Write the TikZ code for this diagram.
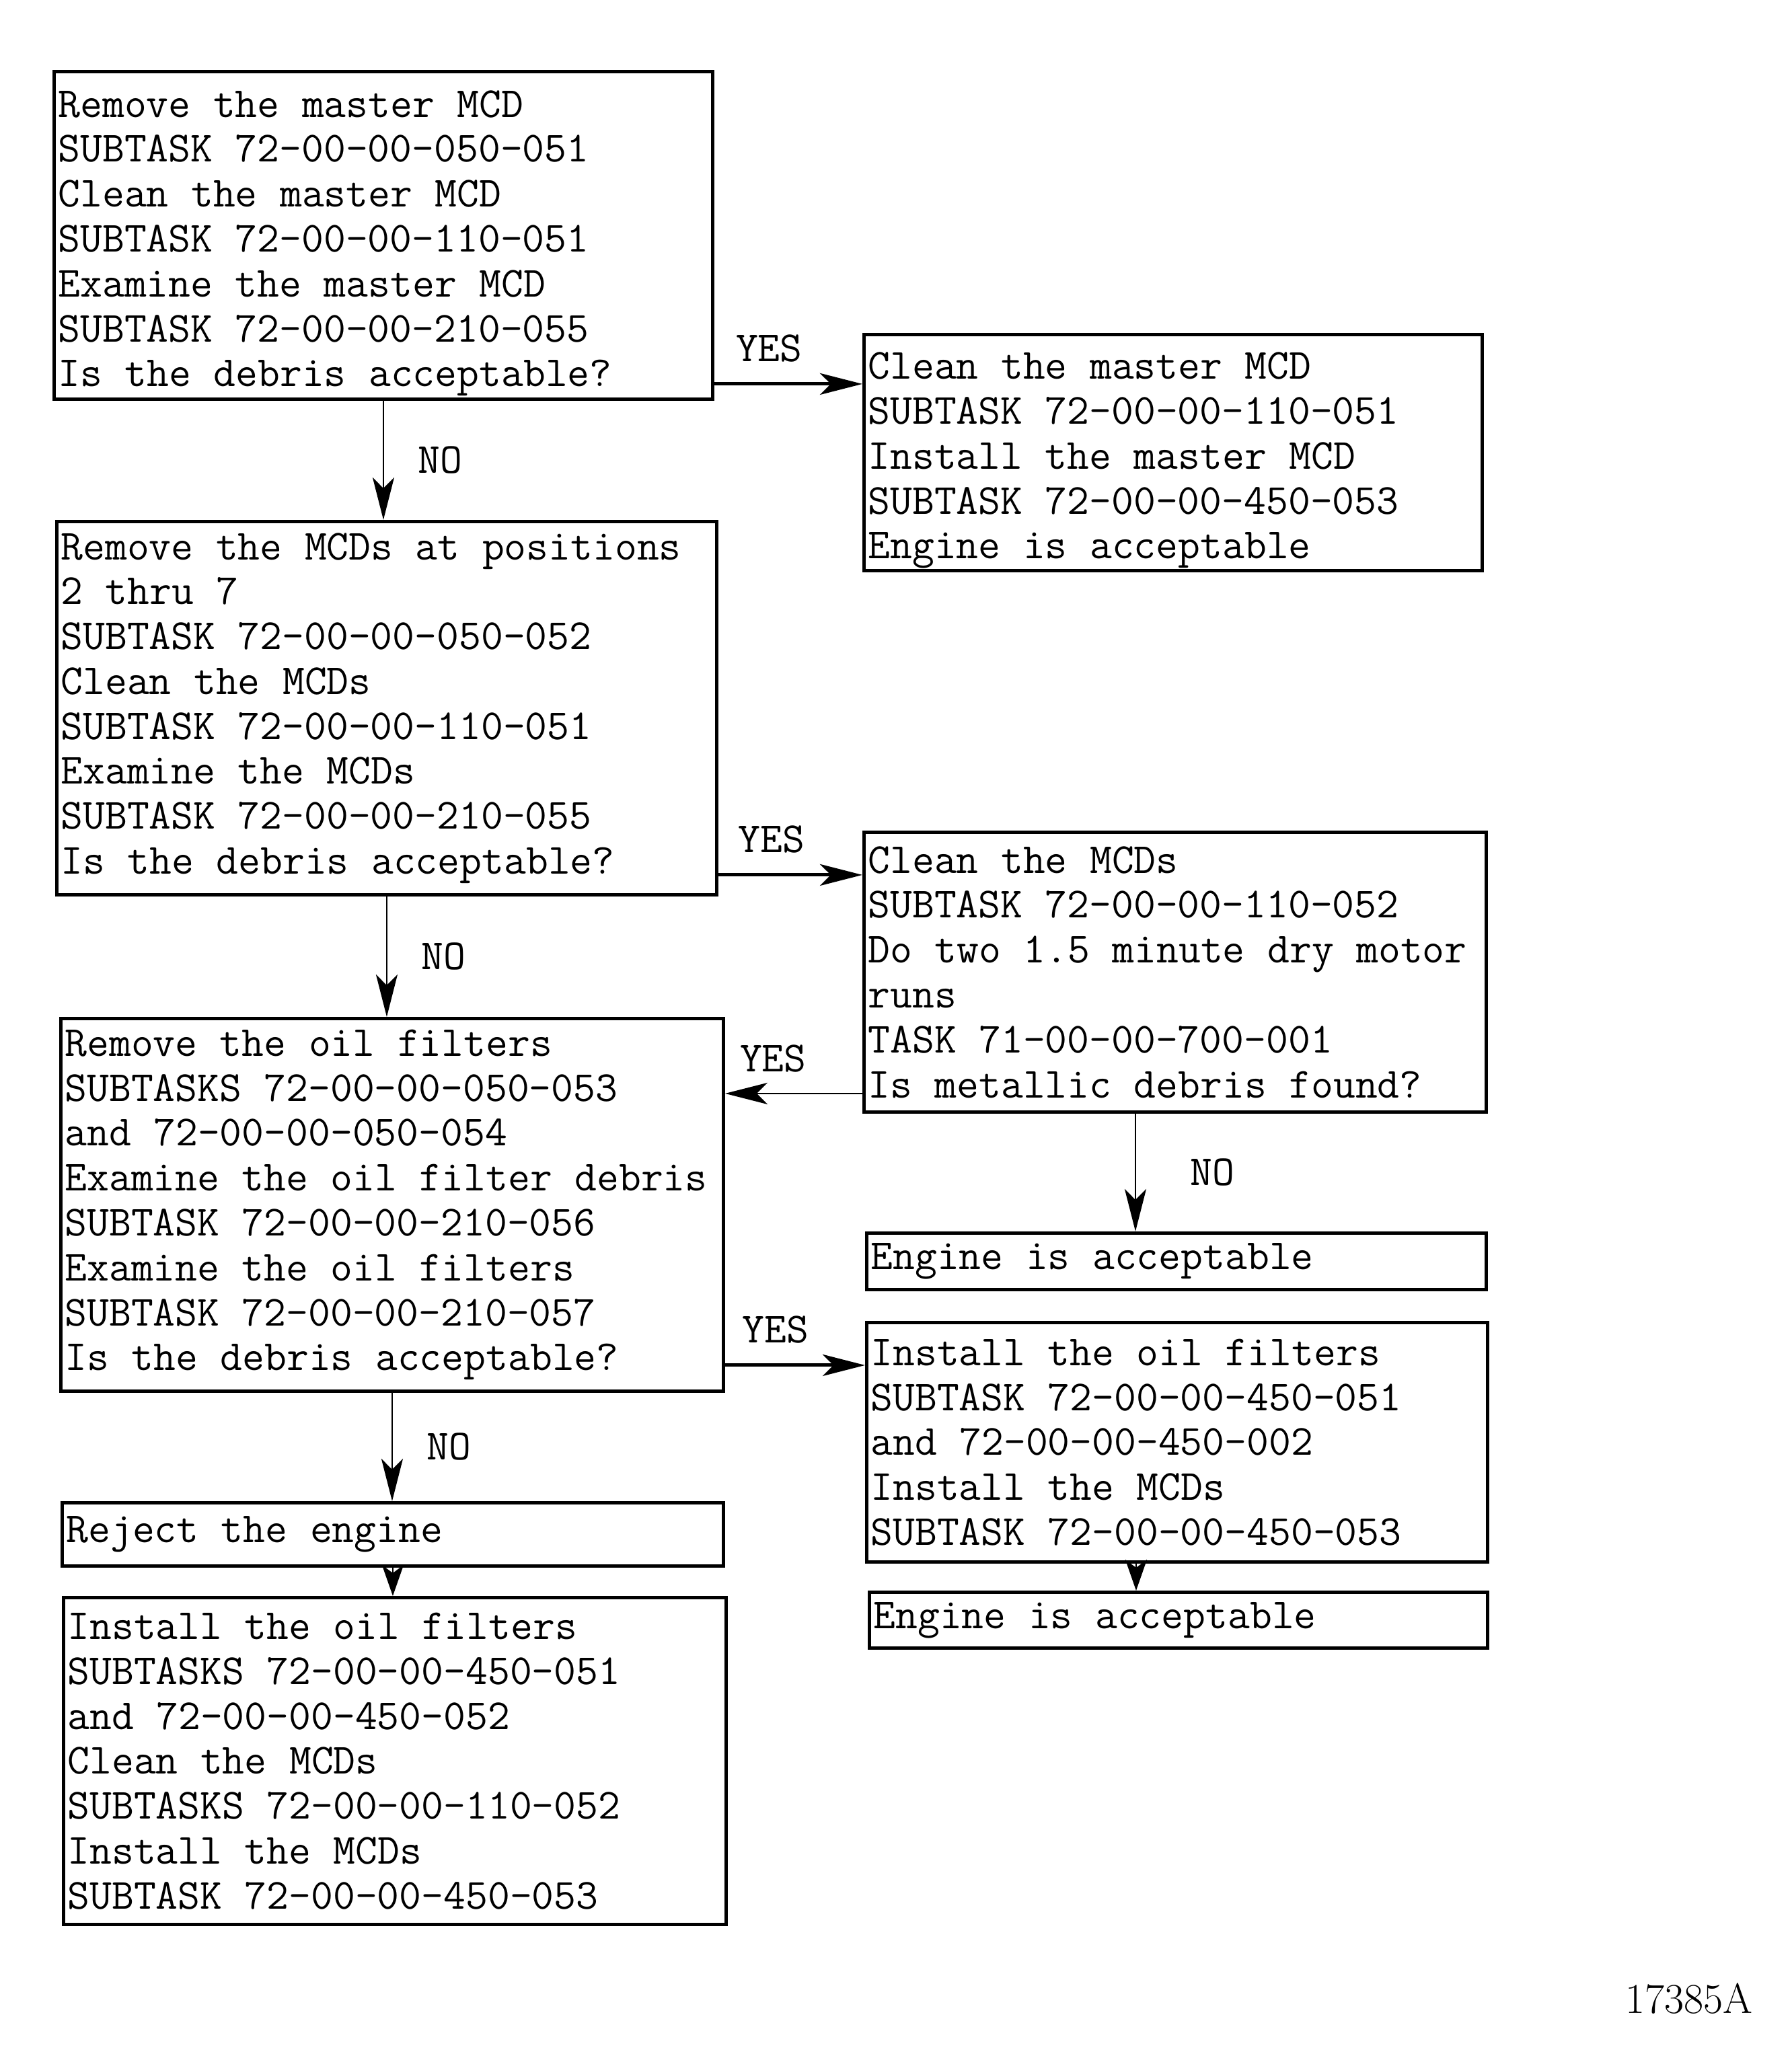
\documentclass[tikz,border=0pt]{standalone}
\usetikzlibrary{arrows.meta}
\newcommand{\boxfont}{\fontsize{18.15}{19}\selectfont\ttfamily}
\newcommand{\monospace}{\spaceskip=0.525em\relax\xspaceskip=\spaceskip}
\begin{document}
\begin{tikzpicture}[
    %Option for the arrows
    >={Stealth[length=6.3mm,width=3.2mm,inset=1.6mm]}, %
    stepbox/.style={draw, line width=1.4pt, anchor=north west, align=left,
        inner xsep=0.06cm, inner ysep=0pt, font=\boxfont,
        execute at begin node=\monospace},
    lowtext/.style={execute at begin node={\monospace\rule{0pt}{18pt}}},
    yesline/.style={line width=1.4pt,->},
    noline/.style={line width=0.8pt,->},
    shortline/.style={line width=0.8pt,-{Stealth[length=4.6mm,width=3.2mm,inset=1.2mm]}},
    answer/.style={font=\boxfont, inner sep=1mm},
]
    \useasboundingbox[fill=white] (0,0) rectangle (26.63,-30.63);

    % Left column
    \node[stepbox, lowtext, text width=9.67cm, minimum height=4.87cm] (masterchk) at (0.78,-1.04)
        {Remove the master MCD\\SUBTASK 72-00-00-050-051\\Clean the master MCD\\
         SUBTASK 72-00-00-110-051\\Examine the master MCD\\SUBTASK 72-00-00-210-055\\
         Is the debris acceptable?};
    \node[stepbox, text width=9.69cm, minimum height=5.55cm] (mcdchk) at (0.82,-7.73)
        {Remove the MCDs at positions\\2 thru 7\\SUBTASK 72-00-00-050-052\\
         Clean the MCDs\\SUBTASK 72-00-00-110-051\\Examine the MCDs\\
         SUBTASK 72-00-00-210-055\\Is the debris acceptable?};
    \node[stepbox, text width=9.73cm, minimum height=5.54cm] (filterchk) at (0.88,-15.12)
        {Remove the oil filters\\SUBTASKS 72-00-00-050-053\\and 72-00-00-050-054\\
         Examine the oil filter debris\\SUBTASK 72-00-00-210-056\\
         Examine the oil filters\\SUBTASK 72-00-00-210-057\\Is the debris acceptable?};
    \node[stepbox, text width=9.71cm, minimum height=0.94cm] (reject) at (0.90,-22.32)
        {Reject the engine};
    \node[stepbox, text width=9.73cm, minimum height=4.86cm] (restore) at (0.92,-23.73)
        {Install the oil filters\\SUBTASKS 72-00-00-450-051\\and 72-00-00-450-052\\
         Clean the MCDs\\SUBTASKS 72-00-00-110-052\\Install the MCDs\\
         SUBTASK 72-00-00-450-053};

    % Right column
    \node[stepbox, lowtext, text width=9.07cm, minimum height=3.51cm] (masterok) at (12.82,-4.95)
        {Clean the master MCD\\SUBTASK 72-00-00-110-051\\Install the master MCD\\
         SUBTASK 72-00-00-450-053\\Engine is acceptable};
    \node[stepbox, text width=9.13cm, minimum height=4.16cm] (motorrun) at (12.82,-12.35)
        {Clean the MCDs\\SUBTASK 72-00-00-110-052\\Do two 1.5 minute dry motor\\
         runs\\TASK 71-00-00-700-001\\Is metallic debris found?};
    \node[stepbox, text width=9.09cm, minimum height=0.84cm] (engineokA) at (12.86,-18.31)
        {Engine is acceptable};
    \node[stepbox, text width=9.11cm, minimum height=3.56cm] (filterinst) at (12.86,-19.64)
        {Install the oil filters\\SUBTASK 72-00-00-450-051\\and 72-00-00-450-002\\
         Install the MCDs\\SUBTASK 72-00-00-450-053};
    \node[stepbox, text width=9.07cm, minimum height=0.83cm] (engineokB) at (12.90,-23.65)
        {Engine is acceptable};

    % Figure number
    \node[anchor=base east, font=\fontsize{18}{21}\selectfont] (figno) at (26.18,-29.93) {17385A};

    % YES branches
    \coordinate (yesA) at ([yshift=0.25cm]masterchk.south east);
    \draw[yesline] (yesA) -- (yesA -| masterok.west) node[answer, pos=0.37, above=2mm] {YES};
    \coordinate (yesB) at ([yshift=0.32cm]mcdchk.south east);
    \draw[yesline] (yesB) -- (yesB -| motorrun.west) node[answer, pos=0.37, above=2mm] {YES};
    \coordinate (yesC) at ([yshift=0.30cm]motorrun.south west);
    \draw[noline] (yesC) -- (yesC -| filterchk.east) node[answer, pos=0.65, above=2mm] {YES};
    \coordinate (yesD) at ([yshift=0.41cm]filterchk.south east);
    \draw[yesline] (yesD) -- (yesD -| filterinst.west) node[answer, pos=0.36, above=2mm] {YES};

    % NO branches
    \draw[noline] (masterchk.south) -- (masterchk.south |- mcdchk.north)
        node[answer, midway, right=4mm] {NO};
    \draw[noline] (mcdchk.south) -- (mcdchk.south |- filterchk.north)
        node[answer, midway, right=4mm] {NO};
    \coordinate (noC) at ([xshift=-0.59cm]motorrun.south);
    \draw[noline] (noC) -- (noC |- engineokA.north) node[answer, midway, right=7mm] {NO};
    \draw[noline] (filterchk.south) -- (filterchk.south |- reject.north)
        node[answer, midway, right=4mm] {NO};

    % Follow-on steps
    \coordinate (instC) at ([xshift=-0.61cm]filterinst.south);
    \draw[shortline] (instC) -- (instC |- engineokB.north);
    \draw[shortline] (reject.south) -- (reject.south |- restore.north);
\end{tikzpicture}
\end{document}
